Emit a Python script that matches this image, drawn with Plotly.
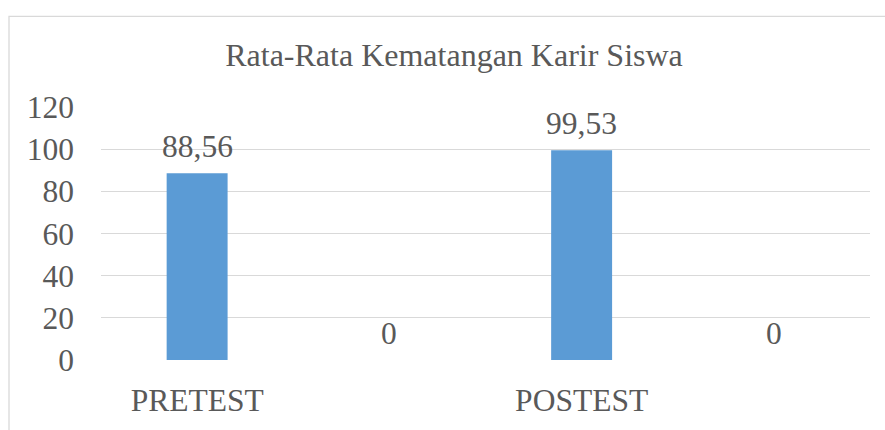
import plotly.graph_objects as go

# ---- data ----
categories = ["PRETEST", "", "POSTEST", ""]
values = [88.56, 0, 99.53, 0]
value_labels = ["88,56", "0", "99,53", "0"]
y_ticks = [0, 20, 40, 60, 80, 100, 120]
title_text = "Rata-Rata Kematangan Karir Siswa"

W, H = 885, 430
ML, MR, MT, MB = 101, 15, 107, 66
FONT = "Liberation Serif, Times New Roman, serif"
GREY = "#595959"
FS = 31.5

x_ids = [f"c{i}" for i in range(len(categories))]

fig = go.Figure()
fig.add_trace(go.Bar(
    x=x_ids, y=values,
    marker=dict(color="#5B9BD5", line=dict(width=0)),
    hoverinfo="skip",
))

for xi, v, lab in zip(x_ids, values, value_labels):
    fig.add_annotation(
        x=xi, y=v, xref="x", yref="y", text=lab, showarrow=False,
        yanchor="bottom", yshift=7,
        font=dict(family=FONT, size=FS, color=GREY),
    )

# chart-area border (Excel chart frame)
plot_w = W - ML - MR
plot_h = H - MT - MB
fig.add_shape(
    type="rect", xref="paper", yref="paper",
    x0=(9 - ML) / plot_w, x1=(W + 20 - ML) / plot_w,
    y0=(H - MB - (H + 20)) / plot_h, y1=(H - MB - 15) / plot_h,
    line=dict(color="#D9D9D9", width=1.3), fillcolor="rgba(0,0,0,0)",
    layer="below",
)

fig.update_layout(
    width=W, height=H,
    margin=dict(l=ML, r=MR, t=MT, b=MB, pad=0),
    paper_bgcolor="white", plot_bgcolor="white",
    showlegend=False,
    bargap=0.683,
    title=dict(
        text=title_text, x=454 / W, xref="container", xanchor="center",
        y=1 - 55 / H, yref="container", yanchor="middle",
        font=dict(family=FONT, size=32, color=GREY),
    ),
    font=dict(family=FONT, size=FS, color=GREY),
)

fig.update_xaxes(
    type="category", tickvals=x_ids, ticktext=categories,
    showgrid=False, showline=False, zeroline=False, ticks="",
    ticklabelstandoff=18,
    tickfont=dict(family=FONT, size=FS, color=GREY),
)
fig.update_yaxes(
    range=[0, 120], tickvals=y_ticks,
    showgrid=True, gridcolor="#D9D9D9", gridwidth=1.3,
    zeroline=False, showline=False, ticks="",
    ticklabelstandoff=26,
    tickfont=dict(family=FONT, size=FS, color=GREY),
)

fig.write_html(
    "out.html",
    config={"displayModeBar": False},
    post_script="document.body.style.margin='0';document.body.style.overflow='hidden';",
)
